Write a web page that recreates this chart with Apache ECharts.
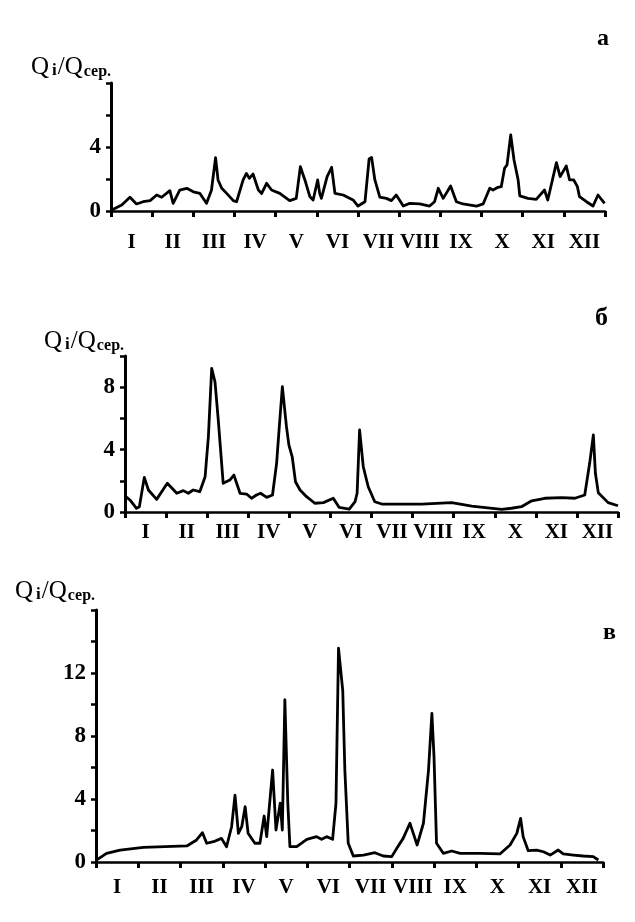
<!DOCTYPE html>
<html>
<head>
<meta charset="utf-8">
<script src="https://cdn.jsdelivr.net/npm/echarts@6/dist/echarts.min.js"></script>
<style>html,body{margin:0;padding:0;background:#fff}#c{width:635px;height:922px}</style>
</head>
<body>
<div id="c"></div>
<script>
// Month tick labels (Roman numerals)
var monthLabels = ['I','II','III','IV','V','VI','VII','VIII','IX','X','XI','XII'];
// y tick labels shown on each panel
var yLabelsA = [0, 4];
var yLabelsB = [0, 4, 8];
var yLabelsC = [0, 4, 8, 12];
var panelLetters = ['а', 'б', 'в'];

// Panel а: time (months from start of year) and Qi/Qсер.
var monthsA = [0.02,0.26,0.46,0.62,0.78,0.95,1.11,1.23,1.43,1.51,1.67,1.84,2.0,2.16,2.32,2.44,2.54,2.6,2.69,2.81,2.97,3.05,3.21,3.29,3.36,3.45,3.58,3.66,3.78,3.9,4.1,4.34,4.5,4.6,4.71,4.83,4.91,5.02,5.07,5.11,5.25,5.36,5.44,5.64,5.88,6.0,6.17,6.27,6.33,6.41,6.53,6.69,6.81,6.93,7.1,7.26,7.5,7.74,7.86,7.95,8.07,8.25,8.39,8.55,8.88,9.04,9.2,9.28,9.4,9.48,9.56,9.62,9.71,9.79,9.89,9.93,10.13,10.33,10.53,10.61,10.82,10.91,11.06,11.14,11.24,11.33,11.38,11.55,11.71,11.83,11.99];
var valuesA = [0.06,0.37,0.86,0.44,0.58,0.65,1.0,0.86,1.27,0.48,1.31,1.42,1.2,1.1,0.48,1.3,3.33,1.94,1.42,1.1,0.65,0.58,1.94,2.35,2.04,2.31,1.31,1.1,1.73,1.31,1.1,0.65,0.79,2.77,1.94,0.9,0.69,1.94,1.1,0.79,2.15,2.73,1.1,1.0,0.69,0.31,0.58,3.25,3.35,1.94,0.86,0.79,0.65,1.0,0.31,0.48,0.44,0.31,0.58,1.42,0.79,1.56,0.58,0.44,0.31,0.44,1.42,1.31,1.48,1.52,2.67,2.88,4.75,3.19,1.94,0.94,0.79,0.73,1.31,0.69,3.02,2.15,2.81,1.94,1.94,1.52,0.9,0.58,0.31,1.0,0.48];

// Panel б
var monthsB = [0.02,0.12,0.28,0.35,0.47,0.57,0.77,1.03,1.26,1.42,1.54,1.66,1.82,1.95,2.03,2.11,2.19,2.27,2.39,2.55,2.65,2.8,2.96,3.08,3.2,3.3,3.45,3.59,3.69,3.75,3.83,3.93,3.99,4.07,4.15,4.26,4.42,4.62,4.83,5.07,5.21,5.46,5.6,5.65,5.71,5.8,5.92,6.08,6.25,7.22,7.95,8.44,9.17,9.41,9.65,9.9,10.22,10.63,10.95,11.19,11.31,11.4,11.45,11.52,11.76,12.0];
var valuesB = [0.98,0.77,0.24,0.34,2.22,1.41,0.81,1.84,1.2,1.37,1.2,1.41,1.3,2.26,4.83,9.21,8.35,5.9,1.84,2.05,2.37,1.2,1.15,0.88,1.09,1.2,0.94,1.09,3.12,5.26,8.03,5.47,4.29,3.54,1.94,1.41,0.98,0.56,0.6,0.88,0.30,0.19,0.66,1.2,5.26,2.9,1.62,0.66,0.51,0.51,0.6,0.38,0.17,0.24,0.34,0.72,0.88,0.92,0.88,1.09,3.12,4.94,2.48,1.24,0.6,0.40];

// Panel в
var monthsC = [0.0,0.25,0.57,1.12,2.15,2.38,2.52,2.62,2.78,2.97,3.09,3.21,3.29,3.37,3.45,3.53,3.6,3.76,3.88,3.98,4.04,4.18,4.26,4.36,4.41,4.47,4.54,4.59,4.75,4.99,5.22,5.34,5.46,5.6,5.68,5.74,5.78,5.84,5.89,5.97,6.09,6.33,6.6,6.8,7.0,7.12,7.27,7.43,7.51,7.6,7.75,7.87,7.95,8.0,8.06,8.22,8.42,8.62,9.09,9.56,9.8,9.96,10.05,10.11,10.23,10.43,10.59,10.75,10.94,11.06,11.3,11.53,11.77,11.89];
var valuesC = [0.1,0.55,0.76,0.93,1.02,1.4,1.86,1.19,1.29,1.5,0.97,2.24,4.25,1.82,2.24,3.51,1.82,1.19,1.19,2.92,1.61,5.84,2.03,3.73,2.03,10.3,3.73,0.97,0.97,1.44,1.61,1.44,1.61,1.44,3.73,13.57,13.46,10.9,5.84,1.19,0.38,0.44,0.59,0.38,0.34,0.87,1.5,2.46,1.82,1.08,2.46,5.84,9.44,6.69,1.19,0.55,0.70,0.55,0.55,0.51,1.08,1.82,2.77,1.61,0.72,0.76,0.65,0.44,0.76,0.51,0.44,0.38,0.34,0.13];

function zip(xs, ys) { return xs.map(function (x, i) { return [x, ys[i]]; }); }

var SERIF = '"Liberation Serif", "Times New Roman", serif';
var grids = [
  {left: 111, right: 30, top: 83, height: 128},
  {left: 125, right: 17, top: 356, height: 156},
  {left: 96, right: 32, top: 610, height: 252}
];
var yMax = [8, 10, 16];
var yShown = [yLabelsA, yLabelsB, yLabelsC];
var labelMargin = [21, 10, 15];
var data = [zip(monthsA, valuesA), zip(monthsB, valuesB), zip(monthsC, valuesC)];

var xAxes = [], yAxes = [], series = [];
for (var i = 0; i < 3; i++) {
  xAxes.push({
    type: 'value', gridIndex: i, min: 0, max: 12, interval: 1,
    axisLine: {show: true, onZero: false, lineStyle: {color: '#000', width: 2.5}},
    axisTick: {show: true, length: 6, lineStyle: {color: '#000', width: 3}},
    axisLabel: {show: false}, splitLine: {show: false}
  });
  xAxes.push({
    type: 'category', gridIndex: i, data: monthLabels, boundaryGap: true, position: 'bottom',
    axisLine: {show: false}, axisTick: {show: false}, splitLine: {show: false},
    axisLabel: {interval: 0, margin: labelMargin[i], color: '#000', fontFamily: SERIF, fontWeight: 'bold', fontSize: 21}
  });
  (function (shown) {
    yAxes.push({
      type: 'value', gridIndex: i, min: 0, max: yMax[i], interval: 2,
      axisLine: {show: true, lineStyle: {color: '#000', width: 3}},
      axisTick: {show: true, length: 5, lineStyle: {color: '#000', width: 2.5}},
      splitLine: {show: false},
      axisLabel: {
        margin: 10, color: '#000', fontFamily: SERIF, fontWeight: 'bold', fontSize: 23,
        formatter: function (v) { return shown.indexOf(v) >= 0 ? String(v) : ''; }
      }
    });
  })(yShown[i]);
  series.push({
    type: 'line', xAxisIndex: i * 2, yAxisIndex: i, data: data[i],
    symbol: 'none', smooth: false, animation: false,
    lineStyle: {color: '#000', width: 2.8, join: 'round'}
  });
}

var richQ = {
  q: {fontFamily: SERIF, fontSize: 25, fontWeight: 'normal', color: '#000'},
  i: {fontFamily: SERIF, fontSize: 17, color: '#000', padding: [7, 1, 0, 3]},
  s: {fontFamily: SERIF, fontSize: 16, fontWeight: 'bold', color: '#000', padding: [8, 0, 0, 1]}
};
var qText = '{q|Q}{i|i}{q|/Q}{s|сер.}';
var titles = [
  {text: qText, left: 26, top: 50, textStyle: {rich: richQ}},
  {text: qText, left: 39, top: 324, textStyle: {rich: richQ}},
  {text: qText, left: 10, top: 574, textStyle: {rich: richQ}},
  {text: panelLetters[0], left: 592, top: 22, textStyle: {fontFamily: SERIF, fontWeight: 'bold', fontSize: 24, color: '#000'}},
  {text: panelLetters[1], left: 590, top: 300, textStyle: {fontFamily: SERIF, fontWeight: 'bold', fontSize: 26, color: '#000'}},
  {text: panelLetters[2], left: 598, top: 616, textStyle: {fontFamily: SERIF, fontWeight: 'bold', fontSize: 24, color: '#000'}}
];

var chart = echarts.init(document.getElementById('c'), null, {renderer: 'canvas'});
chart.setOption({
  backgroundColor: '#fff',
  animation: false,
  title: titles,
  grid: grids,
  xAxis: xAxes,
  yAxis: yAxes,
  series: series
});
</script>
</body>
</html>
